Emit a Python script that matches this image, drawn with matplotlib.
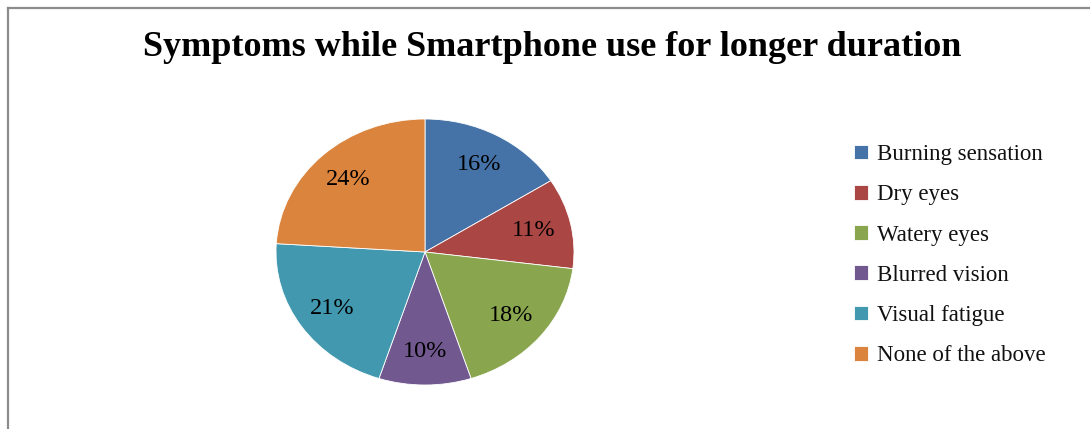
import matplotlib
matplotlib.use("Agg")
import matplotlib.pyplot as plt
from matplotlib.lines import Line2D

categories = ["Burning sensation", "Dry eyes", "Watery eyes", "Blurred vision",
              "Visual fatigue", "None of the above"]
values = [16, 11, 18, 10, 21, 24]
colors = ["#4572A7", "#AA4643", "#89A54E", "#71588F", "#4198AF", "#DB843D"]
title = "Symptoms while Smartphone use for longer duration"

W, H = 1090, 429
fig = plt.figure(figsize=(W / 100, H / 100), dpi=100)
fig.patch.set_facecolor("white")

serif = ["Liberation Serif", "DejaVu Serif"]

# pie axes (slightly stretched horizontally like the reference)
cx, cy, rx, ry = 425, 252, 149, 133
ax = fig.add_axes([(cx - rx) / W, (H - cy - ry) / H, 2 * rx / W, 2 * ry / H])
wedges, texts, autotexts = ax.pie(
    values, colors=colors, startangle=90, counterclock=False,
    autopct=lambda p: f"{p:.0f}%", pctdistance=0.75,
    wedgeprops=dict(edgecolor="white", linewidth=0.6),
    textprops=dict(fontfamily=serif, fontsize=17.5, color="black"),
)
ax.set_aspect("auto")
ax.set_xlim(-1, 1)
ax.set_ylim(-1, 1)
ax.axis("off")

fig.text(552 / W, 1 - 48 / H, title, ha="center", va="center",
         fontfamily=serif, fontweight="bold", fontsize=26, color="black")

leg = fig.legend(wedges, categories, loc="upper left",
                 bbox_to_anchor=(854 / W, 1 - 144 / H),
                 frameon=False, prop=dict(family=serif, size=16.5),
                 handlelength=0.62, handleheight=0.62, handletextpad=0.4,
                 labelspacing=0.84, borderpad=0, borderaxespad=0)
for t in leg.get_texts():
    t.set_color("#111111")

# chart area frame (cropped: only left and top edges visible)
fx, fy = 7.5 / W, 1 - 8 / H
fig.add_artist(Line2D([fx, fx], [0, fy], color="#8c8c8c", linewidth=1.6,
                      transform=fig.transFigure))
fig.add_artist(Line2D([fx, 1.0], [fy, fy], color="#8c8c8c", linewidth=1.6,
                      transform=fig.transFigure))

fig.savefig("out.png", dpi=100, facecolor="white")
